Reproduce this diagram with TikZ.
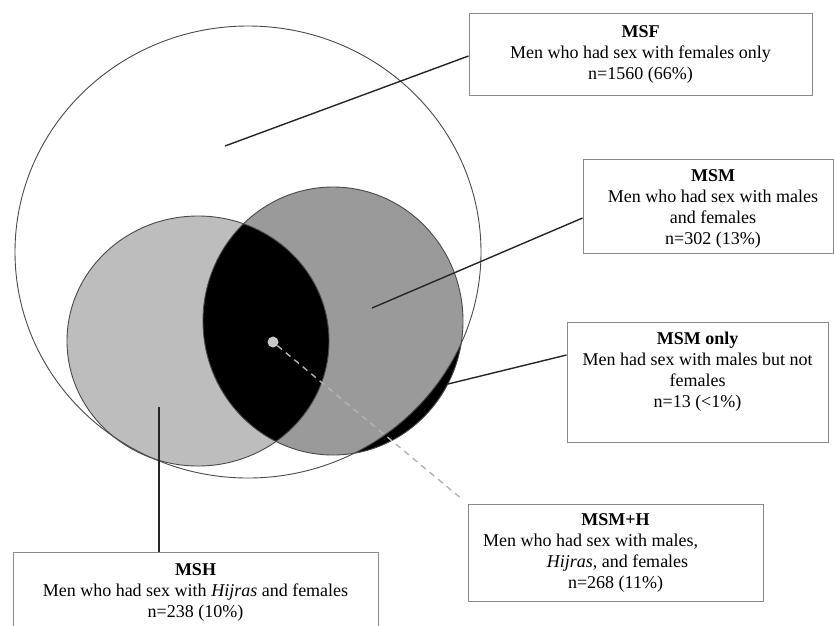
\documentclass[tikz,border=0pt]{standalone}
\usepackage{fontspec}
\setmainfont{Liberation Serif}
\definecolor{lightg}{HTML}{BDBDBD}
\definecolor{darkg}{HTML}{9A9A9A}
\definecolor{edgeg}{HTML}{4A4A4A}
\definecolor{boxg}{HTML}{8A8A8A}
\definecolor{dotg}{HTML}{C8C8C8}
\definecolor{dashg}{HTML}{B4B4B4}
\begin{document}
\begin{tikzpicture}[x=1pt,y=-1pt,
  lab/.style={draw=boxg, line width=1pt, fill=white, align=center,
    font=\fontsize{18}{21}\selectfont, inner sep=0pt},
  txt/.style={align=center, font=\fontsize{18}{21}\selectfont, inner sep=0pt},
  conn/.style={line width=1.4pt, draw=black!85},
  dashconn/.style={line width=1.4pt, draw=dashg, dash pattern=on 6pt off 5pt},
  outl/.style={line width=0.9pt, draw=edgeg}]
\useasboundingbox (0,0) rectangle (834,625);
\clip (0,0) rectangle (834,625);
\fill[white] (0,0) rectangle (834,625);

% Venn regions
\fill[lightg] (198,341) ellipse [x radius=131pt, y radius=125pt];
\fill[darkg] (333,321) ellipse [x radius=130pt, y radius=134pt];
\begin{scope}
  \clip (198,341) ellipse [x radius=131pt, y radius=125pt];
  \fill[black] (333,321) ellipse [x radius=130pt, y radius=134pt];
\end{scope}
\begin{scope}
  \clip (333,321) ellipse [x radius=130pt, y radius=134pt];
  \fill[black, even odd rule] (-10,-10) rectangle (850,640)
    (248,252) ellipse [x radius=233pt, y radius=226pt];
\end{scope}
\draw[outl] (198,341) ellipse [x radius=131pt, y radius=125pt];
\draw[outl] (333,321) ellipse [x radius=130pt, y radius=134pt];
\draw[outl] (248,252) ellipse [x radius=233pt, y radius=226pt];

% anchor points of the callouts
\coordinate (pmsf) at (225,146);
\coordinate (pmsm) at (372,308);
\coordinate (ponly) at (448,384);
\coordinate (pmsh) at (159,407);
\node[circle, fill=dotg, minimum size=11pt, inner sep=0pt] (dot) at (273,342) {};

% boxes
\node[lab, minimum width=343pt, minimum height=82pt] (msf) at (640.5,54)
  {\textbf{MSF}\\Men who had sex with females only\\n=1560 (66\%)};
\node[lab, minimum width=250pt, minimum height=94pt] (msm) at (708,206) {};
\node[txt] (msmt) at (713,209)
  {\textbf{MSM}\\Men who had sex with males\\and females\\n=302 (13\%)};
\node[lab, minimum width=261pt, minimum height=120pt] (only) at (697.5,382) {};
\node[txt] (onlyt) at (697.5,372)
  {\textbf{MSM only}\\Men had sex with males but not\\females\\n=13 (<1\%)};
\node[lab, minimum width=365pt, minimum height=80pt] (msh) at (195.5,592)
  {\textbf{MSH}\\Men who had sex with \textit{Hijras} and females\\n=238 (10\%)};
\node[lab, minimum width=295pt, minimum height=97pt] (msmh) at (615.5,552.5)
  {\textbf{MSM+H}\\Men who had sex with males,\rule{50pt}{0pt}\\\rule{4pt}{0pt}\textit{Hijras}, and females\\n=268 (11\%)};

% connectors
\draw[conn] (pmsf) -- ([yshift=-2pt]msf.west);
\draw[conn] (pmsm) -- ([yshift=-12pt]msm.west);
\draw[conn] (ponly) -- ([yshift=27pt]only.west);
\draw[conn] (pmsh) -- (pmsh |- msh.north);
\draw[dashconn] (dot) -- ([xshift=-5pt,yshift=4pt]msmh.north west);
\end{tikzpicture}
\end{document}
